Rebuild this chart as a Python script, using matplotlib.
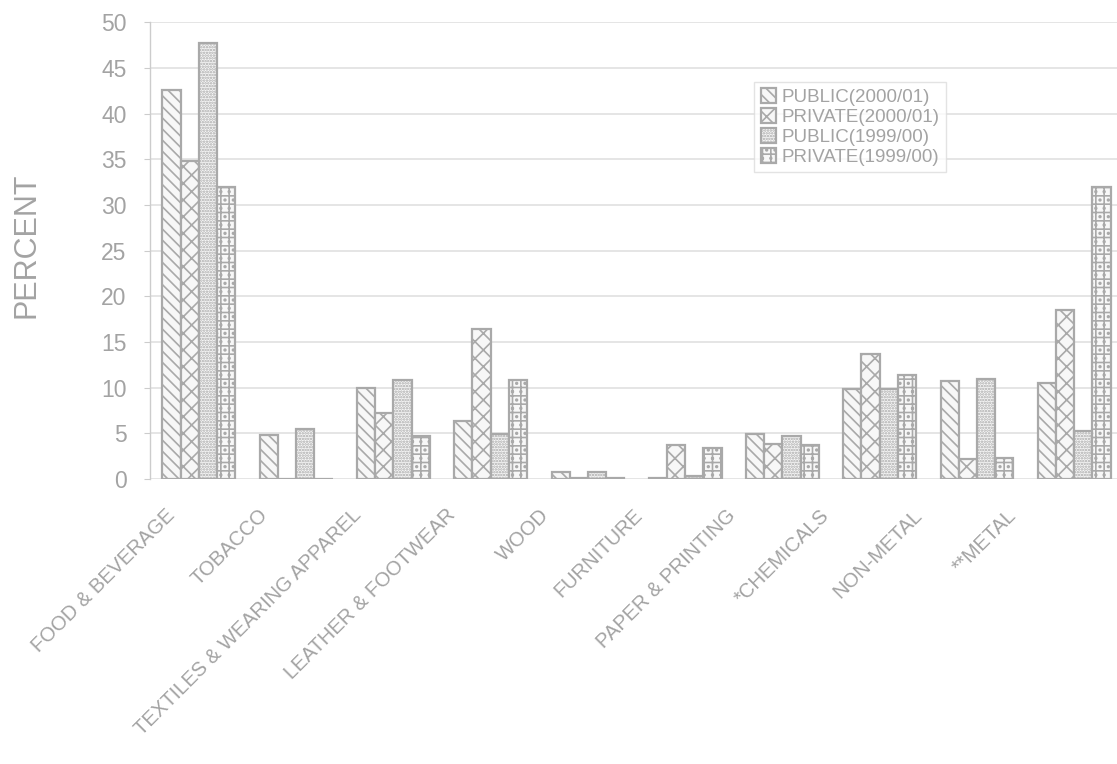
import numpy as np
import matplotlib.pyplot as plt

plt.rcParams['font.family'] = ['Liberation Sans', 'DejaVu Sans']
plt.rcParams['hatch.linewidth'] = 1.2

categories = ["FOOD & BEVERAGE", "TOBACCO", "TEXTILES & WEARING APPAREL",
              "LEATHER & FOOTWEAR", "WOOD", "FURNITURE", "PAPER & PRINTING",
              "*CHEMICALS", "NON-METAL", "**METAL"]

public_2000 = [42.6, 4.8, 10.0, 6.4, 0.8, 0.1, 4.9, 9.8, 10.7, 10.5]
private_2000 = [34.8, 0.0, 7.2, 16.4, 0.1, 3.7, 3.8, 13.7, 2.2, 18.5]
public_1999 = [47.7, 5.5, 10.8, 4.9, 0.8, 0.3, 4.7, 9.8, 10.9, 5.3]
private_1999 = [32.0, 0.0, 4.7, 10.8, 0.1, 3.4, 3.7, 11.4, 2.3, 32.0]

series = [
    ("PUBLIC(2000/01)", public_2000, "\\\\\\"),
    ("PRIVATE(2000/01)", private_2000, "\\\\//"),
    ("PUBLIC(1999/00)", public_1999, "......"),
    ("PRIVATE(1999/00)", private_1999, "++.."),
]

gray = "#a9a9a9"
txt = "#a3a3a3"

fig = plt.figure(figsize=(11.17, 7.64), dpi=100)
ax = fig.add_axes([0.1345, 0.373, 0.8655, 0.598])

x = np.arange(len(categories))
w = 0.187
for k, (name, vals, hatch) in enumerate(series):
    ax.bar(x + (k - 1.5) * w, vals, w, facecolor="#f7f7f7", edgecolor=gray,
           hatch=hatch, linewidth=1.6, label=name, zorder=3)

ax.set_ylim(0, 50)
ax.set_xlim(-0.5, 9.44)
ax.set_yticks(range(0, 51, 5))
ax.yaxis.grid(True, color="#e0e0e0", linewidth=1.2, zorder=0)
ax.set_axisbelow(True)

for s in ["top", "right", "bottom"]:
    ax.spines[s].set_visible(False)
ax.spines["left"].set_color("#cccccc")
ax.spines["left"].set_linewidth(1.0)

ax.tick_params(axis="y", colors="#cccccc", labelcolor=txt, labelsize=16.5,
               length=4, pad=13)
ax.tick_params(axis="x", length=0, pad=24)
# labels sit a little left of the bar groups in the original scan
ax.set_xticks(x - 0.28 - 0.039 * x)
ax.set_xticklabels(categories, rotation=45, ha="right", va="center",
                   rotation_mode="anchor", fontsize=14.5, color=txt)

ax.set_ylabel("PERCENT", fontsize=22, color=txt)
ax.yaxis.set_label_coords(-0.112, 0.512)

leg = ax.legend(loc="upper left", bbox_to_anchor=(0.615, 0.89), fontsize=13.5,
                frameon=True, handlelength=0.8, handleheight=0.8,
                handletextpad=0.3, labelspacing=0.12, borderpad=0.35,
                fancybox=False, edgecolor="#dcdcdc")
for t in leg.get_texts():
    t.set_color(txt)

fig.savefig("out.png", dpi=100)
